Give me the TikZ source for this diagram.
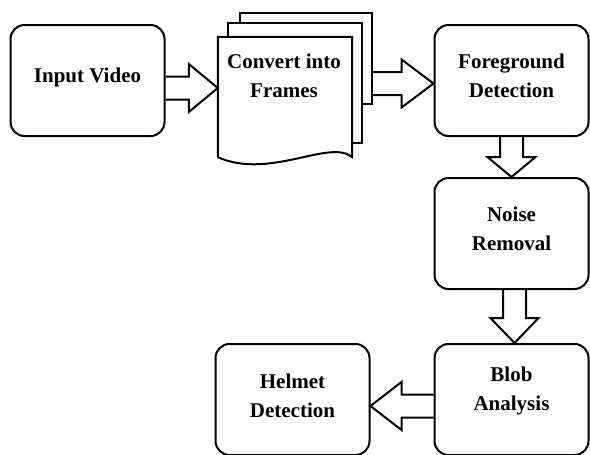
\documentclass[tikz,border=0pt]{standalone}
\usepackage{fontspec}
\setmainfont{Liberation Serif}
\usetikzlibrary{positioning,calc}

\tikzset{
  stage/.style={draw, line width=2pt, rounded corners=14pt, fill=white,
    minimum width=154pt, minimum height=111pt},
  stagetext/.style={align=center, font=\fontsize{21}{29}\selectfont\bfseries},
  sheet/.style={draw, line width=2pt, fill=white, inner sep=0pt},
  fatline/.style={draw, line width=2pt, line join=miter},
}

% hollow block arrow: from, to, head length
\newcommand{\fatarrow}[3]{%
  \coordinate (fa-base) at ($(#2)!#3!(#1)$);
  \draw[fatline] ($(#1)!11.5pt!90:(#2)$) -- ($(fa-base)!11.5pt!90:(#2)$)
    -- ($(fa-base)!24pt!90:(#2)$) -- (#2)
    -- ($(fa-base)!24pt!-90:(#2)$) -- ($(fa-base)!11.5pt!-90:(#2)$)
    -- ($(#1)!11.5pt!-90:(#2)$);
}

\begin{document}
\begin{tikzpicture}[x=1pt, y=-1pt]
  \useasboundingbox (0,0) rectangle (590,455);

  \node [stage] (input) at (87.5,80.5) {};
  \node [stage] (fg) at (511.5,80.5) {};
  \node [stage, below=40pt of fg] (noise) {};
  \node [stage, below=53pt of noise] (blob) {};
  \node [stage, left=63pt of blob] (helmet) {};
  \node [stagetext] (input-t) at ([yshift=3pt]input.center) {Input Video};
  \node [stagetext] (fg-t) at ([yshift=5pt]fg.center) {Foreground\\Detection};
  \node [stagetext] (noise-t) at ([yshift=5pt]noise.center) {Noise\\Removal};
  \node [stagetext] (blob-t) at ([yshift=9pt]blob.center) {Blob\\Analysis};
  \node [stagetext] (helmet-t) at ([yshift=4pt]helmet.center) {Helmet\\Detection};

  % stack of frames
  \node [sheet, minimum width=132pt, minimum height=91pt] (frames-c) at (306,58.5) {};
  \node [sheet, minimum width=134pt, minimum height=120pt] (frames-b) at (295,83) {};
  \node [inner sep=0pt, minimum width=134pt, minimum height=120pt] (frames) at (285,97) {};
  \draw [sheet] (frames.south west) -- (frames.north west) -- (frames.north east) -- (frames.south east)
    .. controls ($(frames.south east)+(-22,-19)$) and ($(frames.south west)+(52,23)$) .. (frames.south west);
  \node [stagetext] (frames-t) at (284,76) {Convert into\\Frames};

  % arrows
  \coordinate (a1) at ([yshift=-7.5pt]input.east);
  \coordinate (a1e) at (a1 -| frames.west);
  \fatarrow{a1}{a1e}{29pt}
  \coordinate (a2e) at ([yshift=-3pt]fg.west);
  \coordinate (a2) at (a2e -| frames-c.east);
  \fatarrow{a2}{a2e}{32pt}
  \fatarrow{fg.south}{noise.north}{20pt}
  \coordinate (a4) at ([xshift=3pt]noise.south);
  \coordinate (a4e) at (a4 |- blob.north);
  \fatarrow{a4}{a4e}{25pt}
  \coordinate (a5) at ([yshift=-6.5pt]blob.west);
  \coordinate (a5e) at (a5 -| helmet.east);
  \fatarrow{a5}{a5e}{31pt}
\end{tikzpicture}
\end{document}
